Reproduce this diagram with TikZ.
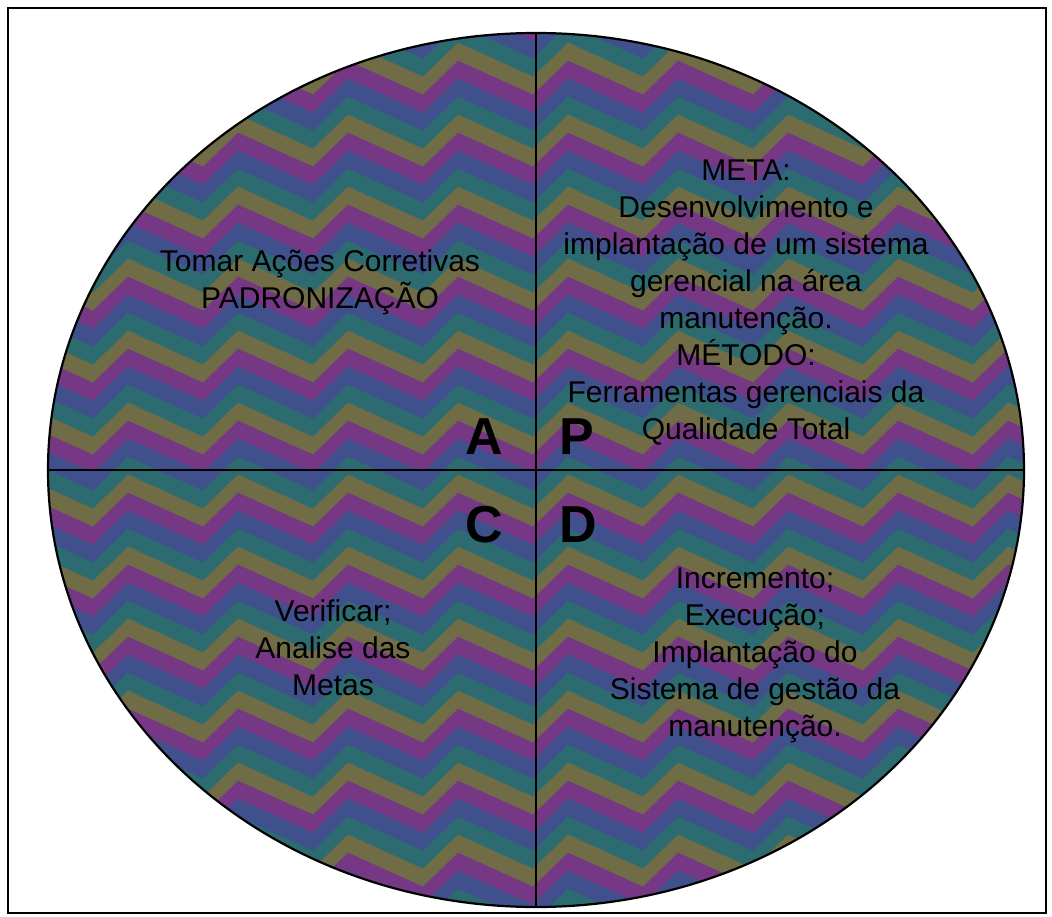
\documentclass[tikz,border=0pt]{standalone}
\usepackage{fontspec}
\setmainfont{Liberation Sans}
\usetikzlibrary{shapes.geometric}
\definecolor{c0}{RGB}{118,56,132}
\definecolor{c1}{RGB}{64,80,140}
\definecolor{c2}{RGB}{44,108,112}
\definecolor{c3}{RGB}{112,108,70}
\tikzset{
  txt/.style={align=center, font=\fontsize{30}{37}\selectfont, text=black, inner sep=0pt},
  letter/.style={font=\fontsize{52}{52}\selectfont\bfseries, text=black, inner sep=0pt},
  axis/.style={line width=2.2pt, black}
}
\begin{document}
\begin{tikzpicture}[x=1pt,y=-1pt]
\useasboundingbox (0,0) rectangle (1052,917);
\fill[white] (0,0) rectangle (1052,917);
\draw[line width=2pt] (8,8) rectangle (1046,913);
% striped fill
\begin{scope}
\clip (536,470) ellipse [x radius=488, y radius=437];
\fill[c0] (40,20) rectangle (1040,920);
\foreach \i in {0,...,56} {
  \pgfmathtruncatemacro\k{mod(\i,4)}
  \pgfmathsetmacro\yy{\i*18}
  \draw[c\k, line width=19pt, line join=miter]
    (20,\yy) \foreach \j in {0,...,9} { -- ({20+\j*110+75},{\yy+34}) -- ({20+\j*110+110},\yy) };
}
\end{scope}
\node[ellipse, draw, line width=2.2pt, minimum width=976pt, minimum height=874pt, inner sep=0pt] (E) at (536,470) {};
\draw[axis] (E.north) -- (E.south);
\draw[axis] (E.west) -- (E.east);
% letters
\node[letter] (A) at (484,437) {A};
\node[letter] (P) at (577,437) {P};
\node[letter] (C) at (484,525) {C};
\node[letter] (D) at (578,525) {D};
% texts
\node[txt] (plan) at (746,303) {META:\\Desenvolvimento e\\implantação de um sistema\\gerencial na área\\manutenção.\\MÉTODO:\\Ferramentas gerenciais da\\Qualidade Total};
\node[txt] (act) at (320,282) {Tomar Ações Corretivas\\PADRONIZAÇÃO};
\node[txt] (check) at (333,648) {Verificar;\\Analise das\\Metas};
\node[txt] (do) at (755,655) {Incremento;\\Execução;\\Implantação do\\Sistema de gestão da\\manutenção.};
\end{tikzpicture}
\end{document}
